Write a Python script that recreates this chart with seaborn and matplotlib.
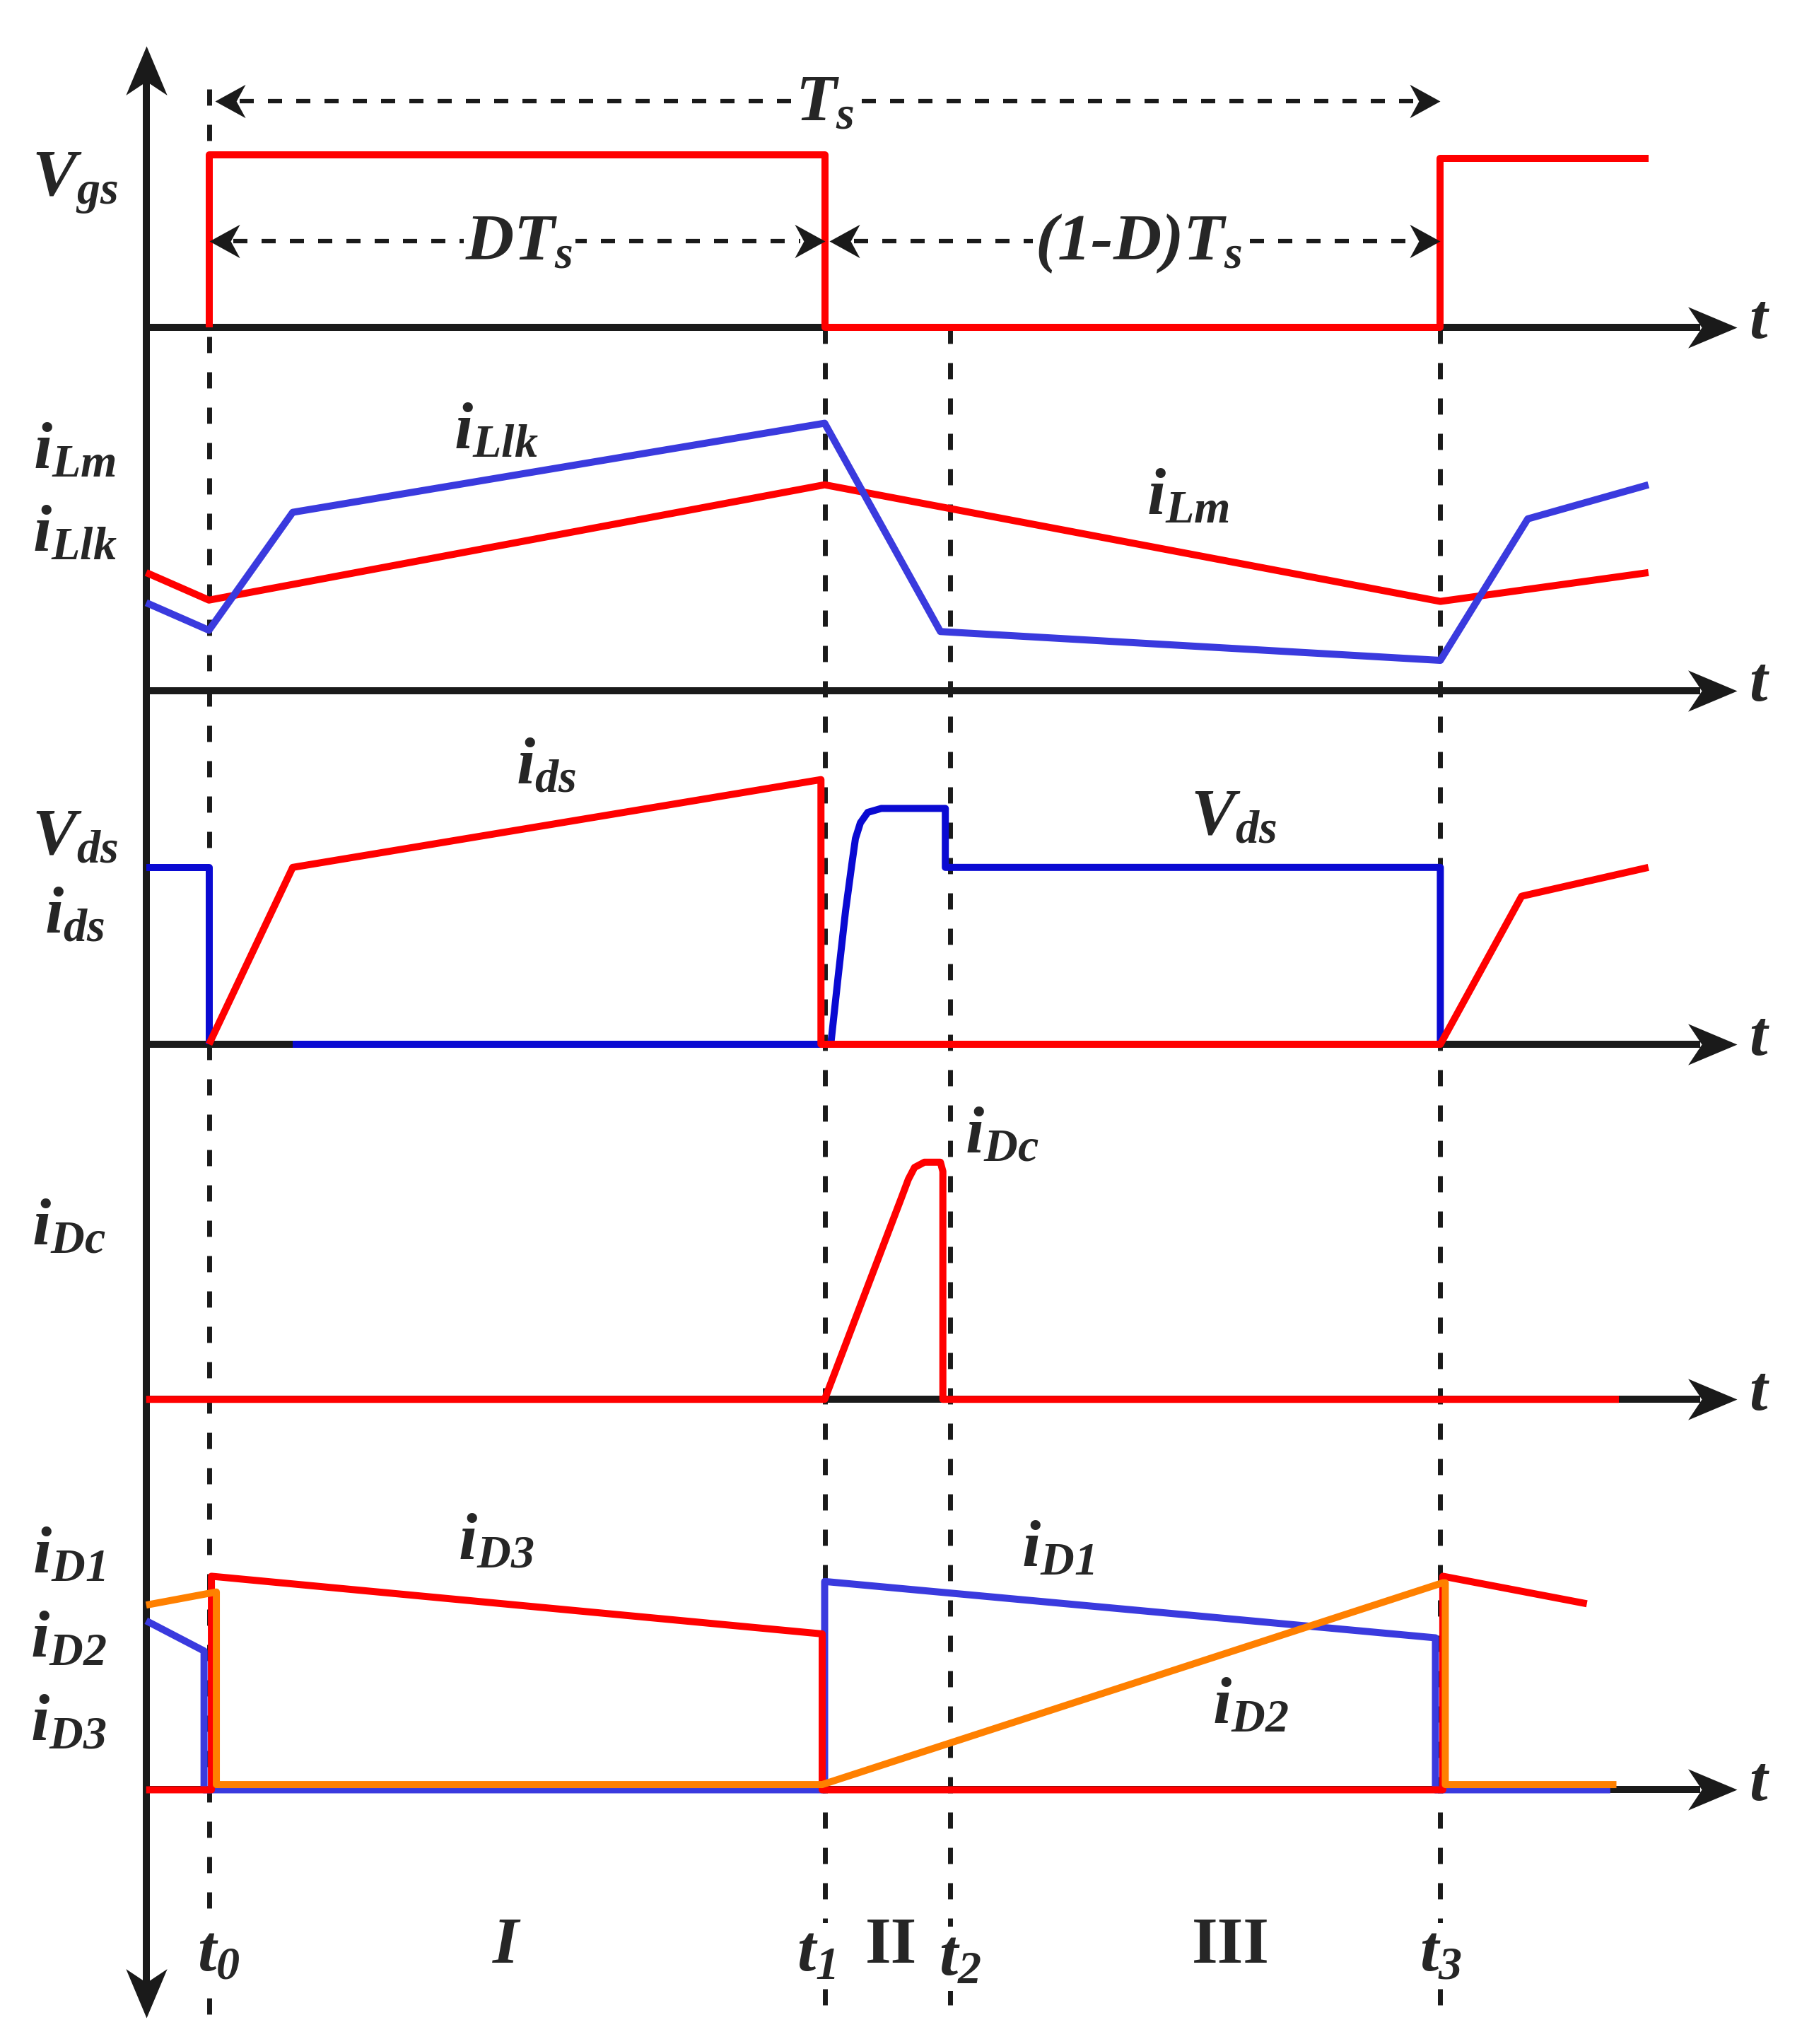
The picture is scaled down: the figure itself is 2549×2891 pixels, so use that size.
import numpy as np
import pandas as pd
import matplotlib
matplotlib.use("Agg")
import matplotlib.pyplot as plt
import seaborn as sns
from matplotlib.path import Path
from matplotlib.markers import MarkerStyle
from matplotlib.transforms import Affine2D

sns.set_theme(style="white")
plt.rcParams["font.family"] = ["Liberation Serif", "DejaVu Serif"]
plt.rcParams["mathtext.fontset"] = "custom"
plt.rcParams["mathtext.it"] = "Liberation Serif:italic:bold"
plt.rcParams["mathtext.rm"] = "Liberation Serif:italic:bold"
plt.rcParams["mathtext.bf"] = "Liberation Serif:italic:bold"

# ---------------- data (time in units of Ts, t0 = 0) ----------------
T0, T1, T2, T3 = 0.0, 0.5, 0.602, 1.0
T_START, T_END = -0.051, 1.169

# gate voltage
vgs_t = [T0, T0, T1, T1, T3, T3, T_END]
vgs_v = [0, 132, 132, 0, 0, 129, 129]

# magnetizing / leakage currents
ilm_t = [T_START, T0, T1, T3, T_END]
ilm_v = [90, 69, 157, 68, 90]
illk_t = [T_START, T0, 0.068, T1, 0.594, T3, 1.071, T_END]
illk_v = [67, 46, 136, 204, 45, 23, 131, 157]

# drain-source voltage (two segments) and current
vds_seg1_t = [T_START, T0, T0]
vds_seg1_v = [135, 135, 0]
vds_seg2_t = [0.068, 0.503, 0.505, 0.511, 0.517, 0.522, 0.525, 0.529, 0.535, 0.546,
              0.598, 0.598, T3, T3]
vds_seg2_v = [0, 0, 0, 52, 102, 137, 157, 169, 177, 180, 180, 135, 135, 0]
ids_t = [T0, 0.068, 0.497, 0.497, T3, 1.066, T_END]
ids_v = [0, 135, 202, 0, 0, 113, 135]

# clamp diode current
idc_t = [T_START, T1, 0.562, 0.568, 0.573, 0.581, 0.594, 0.596, 0.596, 1.145]
idc_v = [0, 0, 153, 168, 177, 181, 181, 174, 0, 0]

# output diode currents
id3_t = [T_START, 0.002, 0.002, 0.498, 0.498, 1.002, 1.002, 1.119]
id3_v = [0, 0, 163, 119, 0, 0, 163, 142]
id1_t = [T_START, -0.004, -0.004, 0.5, 0.5, 0.996, 0.996, 1.138]
id1_v = [129, 106, 0, 0, 159, 116, 0, 0]
id2_t = [T_START, 0.006, 0.006, 0.498, 1.002, 1.004, 1.004, 1.143]
id2_v = [141, 151, 4, 4, 158, 158, 4, 4]

# ---------------- layout ----------------
BASES = [250, 527, 797, 1068, 1366]   # panel zero lines (figure units, top-down)
RED, BLUE, DBLUE, ORANGE = "#ff0000", "#3a3ade", "#0a0ad2", "#ff8000"
LW = 7.2

fig = plt.figure(figsize=(25.49, 28.91), dpi=100)
ax = fig.add_axes([0, 0, 1, 1])
ax.set_xlim(-0.1697, 1.2937)
ax.set_ylim(1560, 0)
ax.axis("off")


def wave(t, v, base, color, z, lw=LW):
    df = pd.DataFrame({"t": t, "y": base - np.asarray(v, float)})
    sns.lineplot(data=df, x="t", y="y", sort=False, estimator=None,
                 color=color, lw=lw, ax=ax, zorder=z,
                 solid_joinstyle="round", solid_capstyle="butt")


stealth = Path([(0, 0), (-1, 0.42), (-0.72, 0), (-1, -0.42), (0, 0)],
               [Path.MOVETO, Path.LINETO, Path.LINETO, Path.LINETO, Path.CLOSEPOLY])
stealth2 = Path([(0, 0), (-1, 0.55), (-0.7, 0), (-1, -0.55), (0, 0)],
                [Path.MOVETO, Path.LINETO, Path.LINETO, Path.LINETO, Path.CLOSEPOLY])


def head(x, y, angle, path=stealth, ms=100):
    m = MarkerStyle(path, transform=Affine2D().rotate_deg(angle))
    ax.plot([x], [y], marker=m, ms=ms, color="k", mew=0, ls="none", zorder=6)


# time axes with arrows
X_TIP = 1.241
for b in BASES:
    ax.plot([T_START, X_TIP - 0.03], [b, b], color="k", lw=LW, solid_capstyle="butt", zorder=2)
    head(X_TIP, b, 0)
    ax.text(1.258, b - 4, "t", fontsize=66, style="italic", weight="bold",
            ha="center", va="center")

# vertical axis
ax.plot([T_START, T_START], [60, 1515], color="k", lw=LW, solid_capstyle="butt", zorder=2)
head(T_START, 35, 90)
head(T_START, 1540, -90)

# dashed instants
DASH = (3.3, 3.9)
ax.plot([T0, T0], [68, 1545], color="k", lw=5, dashes=DASH, zorder=1.5)
for tt in (T1, T2, T3):
    ax.plot([tt, tt], [250, 1545], color="k", lw=5, dashes=DASH, zorder=1.5)

# waveforms
wave(vgs_t, vgs_v, BASES[0], RED, 3)
wave(ilm_t, ilm_v, BASES[1], RED, 3)
wave(illk_t, illk_v, BASES[1], BLUE, 4)
wave(ids_t, ids_v, BASES[2], RED, 4)
wave(vds_seg1_t, vds_seg1_v, BASES[2], DBLUE, 3)
wave(vds_seg2_t, vds_seg2_v, BASES[2], DBLUE, 3)
wave(idc_t, idc_v, BASES[3], RED, 3)
wave(id1_t, id1_v, BASES[4], BLUE, 3)
wave(id3_t, id3_v, BASES[4], RED, 4)
wave(id2_t, id2_v, BASES[4], ORANGE, 5)

# period arrows (dashed)
def dim_arrow(xa, xb, y):
    ax.plot([xa + 0.02, xb - 0.02], [y, y], color="k", lw=4.5, dashes=(3.2, 3.2), zorder=2)
    head(xa, y, 180, stealth2, 62)
    head(xb, y, 0, stealth2, 62)

dim_arrow(0.005, T3, 77)
dim_arrow(T0, T1, 184)
dim_arrow(0.504, T3, 184)

WB = dict(facecolor="white", edgecolor="none", pad=2)
FS = 68
ax.text(0.5, 80, r"$T_s$", fontsize=FS, ha="center", va="center", bbox=WB, zorder=7)
ax.text(0.252, 186, r"$DT_s$", fontsize=FS, ha="center", va="center", bbox=WB, zorder=7)
ax.text(0.755, 186, r"$(1\text{-}D)T_s$", fontsize=FS, ha="center",
        va="center", bbox=WB, zorder=7)

# left labels
left = [(-0.109, 140, r"$V_{gs}$"), (-0.109, 345, r"$i_{Lm}$"), (-0.109, 408, r"$i_{Llk}$"),
        (-0.109, 640, r"$V_{ds}$"), (-0.109, 700, r"$i_{ds}$"), (-0.114, 938, r"$i_{Dc}$"),
        (-0.114, 1188, r"$i_{D1}$"), (-0.114, 1252, r"$i_{D2}$"),
        (-0.114, 1316, r"$i_{D3}$")]
for x, y, s in left:
    ax.text(x, y, s, fontsize=FS, ha="center", va="center")

# in-plot labels
inside = [(0.233, 330, r"$i_{Llk}$"), (0.795, 380, r"$i_{Lm}$"), (0.274, 586, r"$i_{ds}$"),
          (0.832, 625, r"$V_{ds}$"), (0.644, 868, r"$i_{Dc}$"), (0.233, 1178, r"$i_{D3}$"),
          (0.689, 1183, r"$i_{D1}$"), (0.846, 1303, r"$i_{D2}$")]
for x, y, s in inside:
    ax.text(x, y, s, fontsize=FS, ha="center", va="center", zorder=7)

# instants and intervals
bottom = [(0.008, 1492, r"$t_0$"), (0.493, 1492, r"$t_1$"),
          (0.61, 1495, r"$t_2$"), (1.0, 1492, r"$t_3$")]
for x, y, s in bottom:
    ax.text(x, y, s, fontsize=FS, ha="center", va="center", bbox=WB, zorder=7)
ax.text(0.241, 1486, "I", fontsize=FS, style="italic", weight="bold", ha="center", va="center")
ax.text(0.554, 1486, "II", fontsize=FS, weight="bold", ha="center", va="center", bbox=WB, zorder=7)
ax.text(0.83, 1486, "III", fontsize=FS, weight="bold", ha="center", va="center")

fig.savefig("out.png", dpi=100, facecolor="white")
